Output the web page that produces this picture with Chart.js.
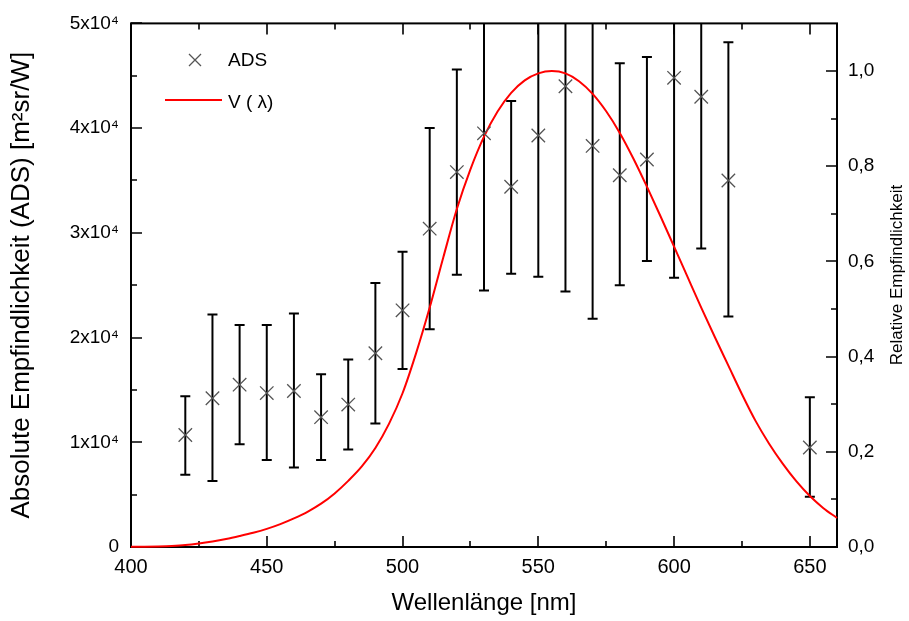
<!DOCTYPE html>
<html>
<head>
<meta charset="utf-8">
<script src="https://cdn.jsdelivr.net/npm/chart.js@4.4.0/dist/chart.umd.min.js"></script>
<style>
  html, body { margin: 0; padding: 0; background: #fff; }
  #wrap { width: 909px; height: 621px; position: relative; }
</style>
</head>
<body>
<div id="wrap"><canvas id="chart"></canvas></div>
<script>
// measured points (ADS) with error bar ends
const wavelengths = [420, 430, 440, 450, 460, 470, 480, 490, 500, 510, 520, 530, 540, 550, 560, 570, 580, 590, 600, 610, 620, 650];
const adsValues = [10700, 14200, 15500, 14700, 14900, 12400, 13600, 18500, 22600, 30400, 35800, 39500, 34400, 39300, 44000, 38300, 35500, 37000, 44800, 43000, 35000, 9500];
const adsLow = [6900, 6300, 9800, 8300, 7600, 8300, 9300, 11800, 17000, 20800, 26000, 24500, 26100, 25800, 24400, 21800, 25000, 27300, 25700, 28500, 22000, 4800];
const adsHigh = [14400, 22200, 21200, 21200, 22300, 16500, 17900, 25200, 28200, 40000, 45600, 54500, 42600, 52800, 63600, 54800, 46200, 46800, 63900, 57500, 48200, 14300];

// V(lambda) curve
const vLambdaNm = [400, 405, 410, 415, 420, 425, 430, 435, 440, 445, 450, 455, 460, 465, 470, 475, 480, 485, 490, 495, 500, 505, 510, 515, 520, 525, 530, 535, 540, 545, 550, 555, 560, 565, 570, 575, 580, 585, 590, 595, 600, 605, 610, 615, 620, 625, 630, 635, 640, 645, 650, 655, 660];
const vLambda = [0.0004, 0.0006, 0.0012, 0.0022, 0.004, 0.0073, 0.0116, 0.0168, 0.023, 0.0298, 0.038, 0.048, 0.06, 0.0739, 0.091, 0.1126, 0.139, 0.1693, 0.208, 0.2586, 0.323, 0.4073, 0.503, 0.6082, 0.71, 0.7932, 0.862, 0.9149, 0.954, 0.9803, 0.995, 1.0, 0.995, 0.9786, 0.952, 0.9154, 0.87, 0.8163, 0.757, 0.6949, 0.631, 0.5668, 0.503, 0.4412, 0.381, 0.321, 0.265, 0.217, 0.175, 0.1382, 0.107, 0.0816, 0.061];

// ticks (major ones get a label)
const xTicks = [400, 425, 450, 475, 500, 525, 550, 575, 600, 625, 650];
const yTicks = [0, 5000, 10000, 15000, 20000, 25000, 30000, 35000, 40000, 45000, 50000];
const y1Ticks = [0, 0.1, 0.2, 0.3, 0.4, 0.5, 0.6, 0.7, 0.8, 0.9, 1.0];
const leftTickLabels = ['0', '1x10⁴', '2x10⁴', '3x10⁴', '4x10⁴', '5x10⁴'];

const FONT = "'Liberation Sans', Arial, sans-serif";
Chart.defaults.font.family = FONT;
Chart.defaults.color = '#000';

const setTicks = list => s => { s.ticks = list.map(v => ({ value: v })); };

// frame, inward ticks, error bars, legend, right title
const frameTicks = {
  id: 'frameTicks',
  beforeDatasetsDraw(chart) {
    const { ctx, chartArea: a, scales } = chart;
    ctx.save();
    ctx.strokeStyle = '#000';
    ctx.lineWidth = 2;
    ctx.strokeRect(a.left, a.top, a.right - a.left, a.bottom - a.top);
    ctx.lineWidth = 1.6;
    ctx.beginPath();
    scales.x.ticks.forEach((t, i) => {
      const px = Math.round(scales.x.getPixelForTick(i));
      const len = t.value % 50 === 0 ? 11 : 6;
      ctx.moveTo(px, a.bottom); ctx.lineTo(px, a.bottom - len);
      ctx.moveTo(px, a.top); ctx.lineTo(px, a.top + len);
    });
    scales.y.ticks.forEach((t, i) => {
      const py = Math.round(scales.y.getPixelForTick(i));
      const len = t.value % 10000 === 0 ? 11 : 6;
      ctx.moveTo(a.left, py); ctx.lineTo(a.left + len, py);
    });
    scales.y1.ticks.forEach((t, i) => {
      const k = Math.round(t.value * 10);
      const py = Math.round(scales.y1.getPixelForTick(i));
      const len = k % 2 === 0 ? 11 : 6;
      ctx.moveTo(a.right, py); ctx.lineTo(a.right - len, py);
    });
    ctx.stroke();

    // error bars
    ctx.beginPath();
    ctx.rect(a.left, a.top, a.right - a.left, a.bottom - a.top);
    ctx.clip();
    ctx.lineWidth = 2;
    ctx.beginPath();
    wavelengths.forEach((w, i) => {
      const x = scales.x.getPixelForValue(w);
      const y1 = scales.y.getPixelForValue(adsLow[i]);
      const y2 = scales.y.getPixelForValue(adsHigh[i]);
      ctx.moveTo(x, y1); ctx.lineTo(x, y2);
      ctx.moveTo(x - 5, y1); ctx.lineTo(x + 5, y1);
      ctx.moveTo(x - 5, y2); ctx.lineTo(x + 5, y2);
    });
    ctx.stroke();
    ctx.restore();
  },
  afterDraw(chart) {
    const { ctx } = chart;
    ctx.save();
    // legend
    ctx.strokeStyle = '#555';
    ctx.lineWidth = 1.3;
    ctx.beginPath();
    ctx.moveTo(189, 54); ctx.lineTo(201, 66);
    ctx.moveTo(201, 54); ctx.lineTo(189, 66);
    ctx.stroke();
    ctx.strokeStyle = '#ff0000';
    ctx.lineWidth = 2;
    ctx.beginPath();
    ctx.moveTo(165, 100); ctx.lineTo(222, 100);
    ctx.stroke();
    ctx.fillStyle = '#000';
    ctx.font = '19px ' + FONT;
    ctx.textBaseline = 'middle';
    ctx.textAlign = 'left';
    ctx.fillText('ADS', 228, 61);
    ctx.fillText('V ( λ)', 228, 103);
    // right axis title
    ctx.font = '17px ' + FONT;
    ctx.translate(897, 275);
    ctx.rotate(-Math.PI / 2);
    ctx.textAlign = 'center';
    ctx.fillText('Relative Empfindlichkeit', 0, 0);
    ctx.restore();
  }
};

new Chart(document.getElementById('chart'), {
  type: 'scatter',
  data: {
    datasets: [
      {
        label: 'ADS',
        data: wavelengths.map((w, i) => ({ x: w, y: adsValues[i] })),
        yAxisID: 'y',
        showLine: false,
        pointStyle: 'crossRot',
        pointRadius: 9.5,
        pointHoverRadius: 9.5,
        borderColor: '#555',
        backgroundColor: '#555',
        pointBorderWidth: 1.3
      },
      {
        label: 'V ( λ)',
        data: vLambdaNm.map((w, i) => ({ x: w, y: vLambda[i] })),
        yAxisID: 'y1',
        showLine: true,
        pointRadius: 0,
        borderColor: '#ff0000',
        borderWidth: 2,
        cubicInterpolationMode: 'monotone',
        clip: 3
      }
    ]
  },
  options: {
    responsive: true,
    maintainAspectRatio: false,
    animation: false,
    layout: { padding: { top: 22, left: 0, right: 0, bottom: 0 } },
    plugins: { legend: { display: false }, tooltip: { enabled: false } },
    scales: {
      x: {
        type: 'linear',
        min: 400,
        max: 660,
        grid: { display: false, drawTicks: false },
        border: { display: false },
        afterBuildTicks: setTicks(xTicks),
        ticks: {
          autoSkip: false,
          maxRotation: 0,
          padding: 8,
          font: { size: 20 },
          callback: v => (v % 50 === 0 ? String(v) : '')
        },
        title: { display: true, text: 'Wellenlänge [nm]', font: { size: 24 }, padding: { top: 0, bottom: 3 } },
        afterFit(s) { s.height = 74; }
      },
      y: {
        type: 'linear',
        position: 'left',
        min: 0,
        max: 50000,
        grid: { display: false, drawTicks: false },
        border: { display: false },
        afterBuildTicks: setTicks(yTicks),
        ticks: {
          autoSkip: false,
          padding: 12,
          font: { size: 19 },
          callback: v => (v % 10000 === 0 ? leftTickLabels[v / 10000] : '')
        },
        title: { display: true, text: 'Absolute Empfindlichkeit (ADS) [m²sr/W]', font: { size: 26 }, padding: { top: 6, bottom: 0 } },
        afterFit(s) { s.width = 131; }
      },
      y1: {
        type: 'linear',
        position: 'right',
        min: 0,
        max: 1.1,
        grid: { display: false, drawTicks: false },
        border: { display: false },
        afterBuildTicks: setTicks(y1Ticks),
        ticks: {
          autoSkip: false,
          padding: 11,
          font: { size: 19 },
          callback: v => {
            const k = Math.round(v * 10);
            return k % 2 === 0 ? (k / 10).toFixed(1).replace('.', ',') : '';
          }
        },
        afterFit(s) { s.width = 72; }
      }
    }
  },
  plugins: [frameTicks]
});
</script>
</body>
</html>
